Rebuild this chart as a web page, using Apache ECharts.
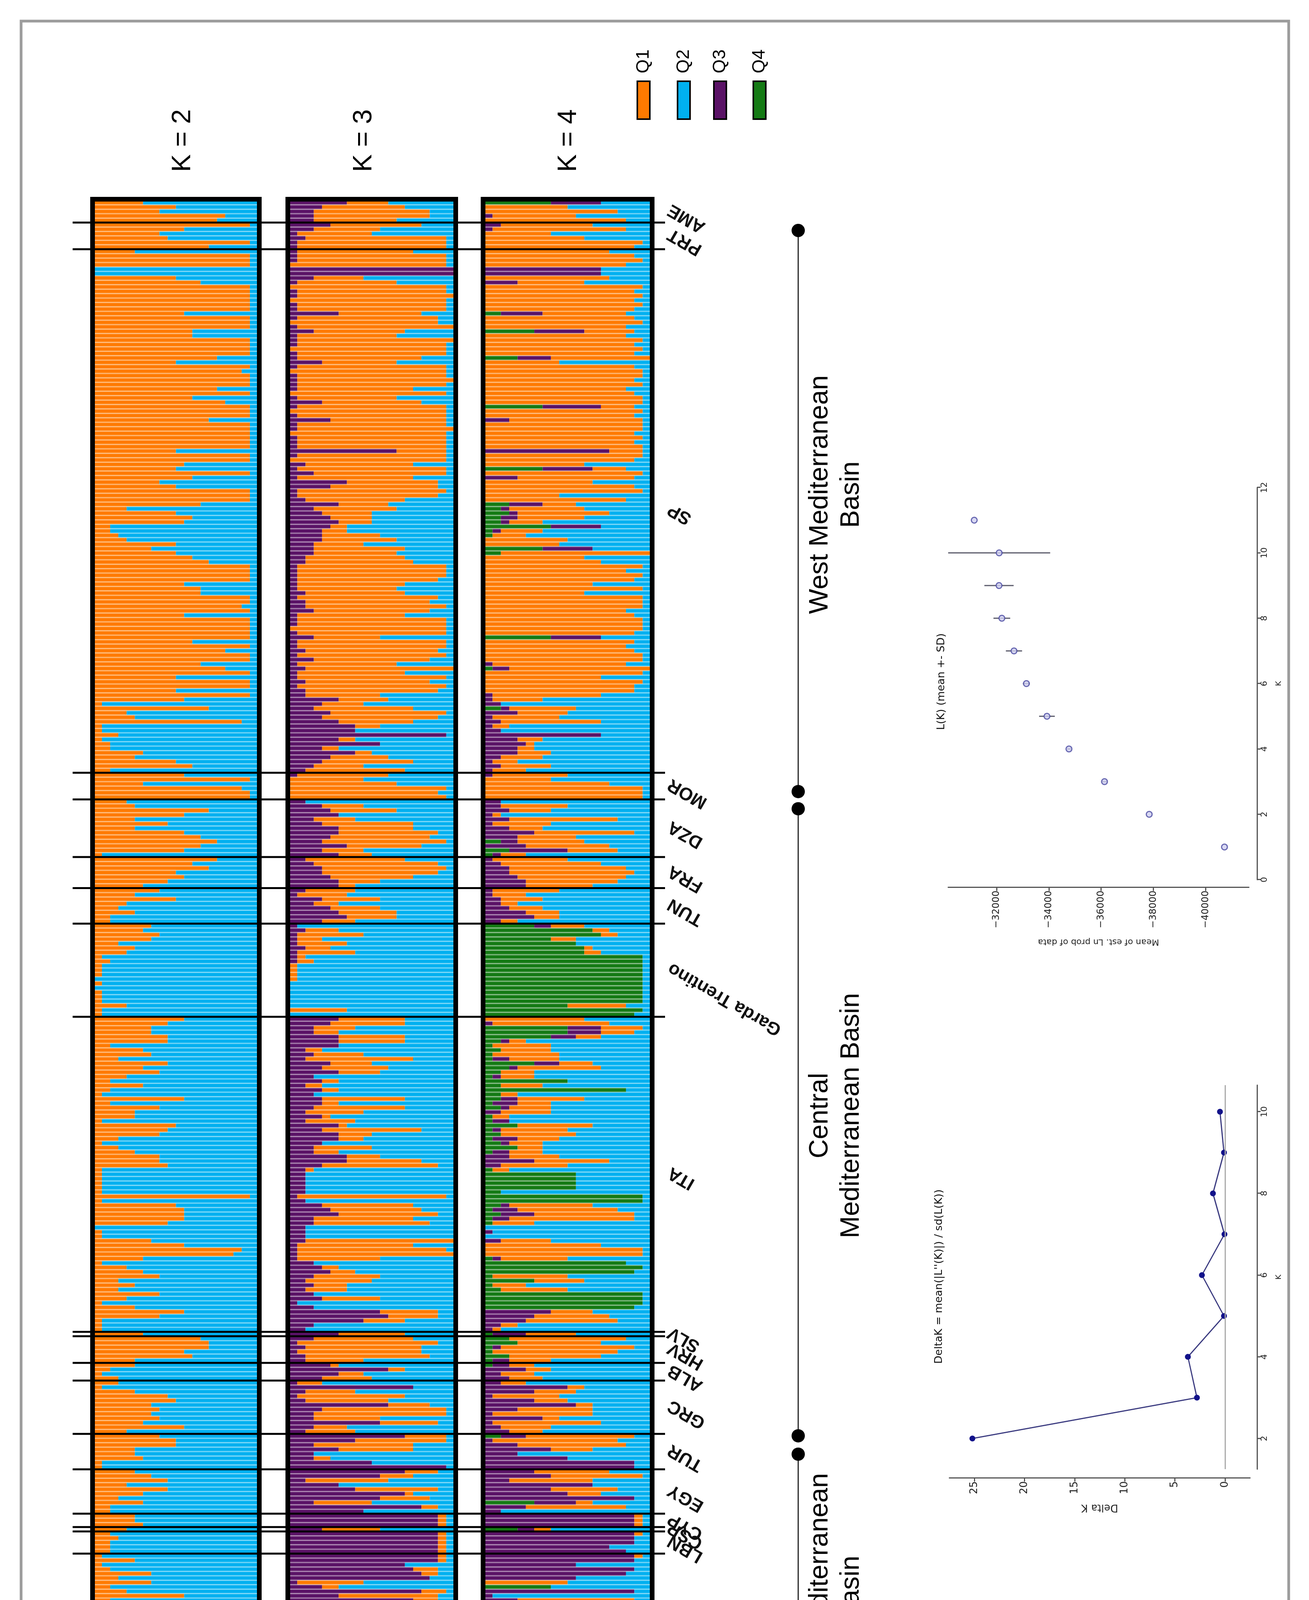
<!DOCTYPE html>
<html>
<head>
<meta charset="utf-8">
<script src="https://cdn.jsdelivr.net/npm/echarts@6/dist/echarts.min.js"></script>
<style>
html, body { margin: 0; padding: 0; background: #fff; }
#main { position: absolute; left: 0; top: 0; width: 3352px; height: 4719px; }
.rot { position: absolute; transform: rotate(-90deg); transform-origin: 50% 50%; }
#lk { left: 2180px; top: 1330px; width: 1260px; height: 960px; }
#dk { left: 2220px; top: 2810px; width: 1180px; height: 960px; }
</style>
</head>
<body>
<div id="main"></div>
<div id="lk" class="rot"></div>
<div id="dk" class="rot"></div>
<script>
// populations, top to bottom, and number of individuals in each
var popNames = ['AME', 'PRT', 'SP', 'MOR', 'DZA', 'FRA', 'TUN', 'Garda Trentino', 'ITA', 'SLV',
  'HRV', 'ALB', 'GRC', 'TUR', 'EGY', 'CYP', 'CSP', 'LBN', 'SYR', 'IRA'];
var popSizes = [5, 6, 118, 6, 13, 7, 8, 21, 71, 1, 6, 4, 12, 8, 10, 3, 1, 5, 38, 3];

// membership per individual, one char per individual, base 21 => twentieths (0..k = 0..20)
// K = 2 : Q1 share (Q2 is the rest)
var k2Q1 = ['6a8gf', 'jb89je',
  '5jjj00adjj' + 'jjjjbjjjcc' + 'jjjjfajijj' + 'jfjcgjjjej' + 'jjjjjajjba' + 'jc8ajjjd4a' +
  'cb2234a7ac' + 'ejjjjbddjj' + 'ijbjjjjjcj' + 'gjjdgjajja' + 'jb1e45i113' + '12265ac2',
  'bj6ijj', '45eb595bdfdb1', 'fceab96', '85a43522', '768735412111010111411',
  'b977992673' + '96842621b2' + '8551a98313' + '5889111111' + 'j1abbb9011' + '7bih614683' + '538415b8111',
  '6', 'deebc5', '5213', '3159a78786b4', '8aa55611', '5794963622', '556', '4', '23222',
  '151273724b' + '2042154276' + '7632123742' + '65343784', '321'];

// K = 3 : Q3 and Q1 shares (Q2 is the rest)
var k3Q3 = ['74333', '531211',
  '1110kk3101' + '1011610131' + '1101141011' + '1101410151' + '10111d1021' + '3175112634' +
  '5654443332' + '2111111212' + '2311101311' + '2131211212' + '264354688j' + '6b485432',
  '100000', '2456346654746', '2344566', '21435674', '121112111000000000000',
  '6533666232' + '5463424344' + '3242646643' + '3774222222' + '1245633222' + '2111134532' + '323413bc932',
  '6', '312122', '5c64', '1f212c433b32', 'e83633aj', 'eb268eb3g9', 'iii', '4', 'iiiii',
  'iiefgh14g6' + 'fihjihhjhi' + 'hgi49hhi48' + '4dfefhhe', 'iih'];
var k3Q1 = ['5aeea', 'b89hii',
  'eiij006cji' + 'jjiiahijbc' + 'jijif9ijij' + 'iejccijiei' + 'jjiii6ijdi' + 'gebdihc6a6' +
  '5423796bac' + 'diiihdcchf' + 'hediiji8ii' + 'giecidifig' + '965cee9300' + '20227b6c',
  'b9djij', '05805b9ccf954', 'cffea52', '66736764', '048363712111100000070',
  '895388026d' + '58502220a2' + 'b7161c4307' + '349e100000' + 'i0bbcce000' + 'ieija02388' + '45070076500',
  '8', 'cheff7', '1236', '306da5fg8746', '5bc90200', '44a0a16720', '111', '7', '11111',
  '110320823c' + '3131123031' + '2315623186' + '64343225', '000'];

// K = 4 : Q4, Q3 and Q1 shares (Q2 is the rest)
var k4Q4 = ['80000', '000000',
  '0000000000' + '0000200060' + '0000400000' + '0000070000' + '0000000007' + '0000000323' +
  '2281100720' + '0000000000' + '0000000800' + '0000100000' + '0002000000' + '00000000',
  '000000', '0000000002031', '0000000', '00000000', '6de8bccjjjjjjjjjjjaji',
  '00aa821211' + '6321a2h221' + '2011412124' + '10001bbbb2' + 'jj21211000' + '00001hji16' + '12jjji00000',
  '1', '341131', '1000', '000000000000', '20000000', '0000000600', '000', '4', '00000',
  '0000000800' + '0000000000' + '0006400072' + '70000000', '000'];
var k4Q3 = ['60010', '210000',
  '0000ee0400' + '0000500060' + '0000400000' + '0000070030' + '00000f0006' + '0400000411' +
  '2161000600' + '0000000000' + '0000000600' + '0001200000' + '112141212e' + '45442121',
  '100000', '2231313642571', '1233455', '11223562', '200000000000000000000',
  '0144310002' + '3101000023' + '1202010310' + '2362000000' + '0013420010' + '2000100000' + '00000086521',
  '4', '001002', '2523', '2a616b417123', '31484aii', '683d8ai552', 'iii', '2', 'iiifh',
  'iibihb00i1' + '4iiiiigiii' + 'hid28dii6e' + '6dhgggff', 'hgf'];
var k4Q1 = ['0agah', 'bg8cji',
  'fijh00f8ji' + 'jijiaijh6h' + 'jijic9ijji' + 'jhijj4jigj' + 'jijij4jic4' + 'jedij9h49b' +
  '84054a90ic' + 'ejhjidjcjj' + 'jhijjji0ih' + 'ijjghjejii' + 'd60868c200' + '31245364',
  '98fjjj', '0851d74c78a63', '9cefdb8', '84524432', '422301200000000000700',
  'ce54327686' + '4a44050284' + '5620989543' + '4698200000' + '00accf5000' + '6ejj800096' + '48000059b21',
  '6', 'eagfb5', '3344', '3258429c2d64', 'dfd50000', '9ba08402c0', '111', '2', '10000',
  '100000a000' + 'e000000000' + '1000000000' + '00112232', '000'];

// basins: label, first and last population index
var basins = [['West Mediterranean\nBasin', 0, 3], ['Central\nMediterranean Basin', 4, 12], ['East Mediterranean\nBasin', 13, 19]];

// L(K) and Delta K
var lkK = [1, 2, 3, 4, 5, 6, 7, 8, 9, 10, 11];
var lkMean = [-40717, -37838, -36128, -34769, -33928, -33141, -32667, -32202, -32094, -32100, -31147];
var lkSd = [0, 0, 90, 70, 300, 130, 310, 320, 560, 1950, 0];
var dkK = [2, 3, 4, 5, 6, 7, 8, 9, 10];
var dkVal = [25.2, 2.8, 3.7, 0.1, 2.3, 0.05, 1.2, 0.1, 0.5];

var colQ1 = '#ff7a00', colQ2 = '#00b0f0', colQ3 = '#5a1266', colQ4 = '#147a14';
var FONT = '"Liberation Sans", Arial, sans-serif';

function decode(arr, name) {
  var out = [];
  arr.forEach(function (s, i) {
    if (s.length !== popSizes[i]) throw new Error(name + ' ' + popNames[i] + ' has ' + s.length + ' not ' + popSizes[i]);
    for (var j = 0; j < s.length; j++) out.push(parseInt(s.charAt(j), 21) / 20);
  });
  return out;
}
function rest() {
  var parts = Array.prototype.slice.call(arguments);
  return parts[0].map(function (v, i) {
    var s = 0;
    parts.forEach(function (p) { s += p[i]; });
    return Math.max(0, +(1 - s).toFixed(3));
  });
}

var a2q1 = decode(k2Q1, 'k2Q1'), a2q2 = rest(a2q1);
var a3q3 = decode(k3Q3, 'k3Q3'), a3q1 = decode(k3Q1, 'k3Q1'), a3q2 = rest(a3q3, a3q1);
var a4q4 = decode(k4Q4, 'k4Q4'), a4q3 = decode(k4Q3, 'k4Q3'), a4q1 = decode(k4Q1, 'k4Q1'), a4q2 = rest(a4q4, a4q3, a4q1);
var N = a2q1.length;
var ids = [];
for (var i = 0; i < N; i++) ids.push('i' + i);

var panels = [{ left: 240, width: 421 }, { left: 740, width: 424 }, { left: 1240, width: 427 }];
var gTop = 513, gH = 3930;

function bar(name, data, color, idx, stack) {
  return {
    name: name, type: 'bar', stack: stack, xAxisIndex: idx, yAxisIndex: idx,
    data: data, barCategoryGap: '0%', silent: true,
    itemStyle: { color: color }
  };
}

var option = {
  animation: false,
  backgroundColor: '#fff',
  grid: panels.map(function (p) { return { left: p.left, width: p.width, top: gTop, height: gH }; }),
  xAxis: panels.map(function (p, k) { return { type: 'value', min: 0, max: 1, gridIndex: k, show: false }; }),
  yAxis: panels.map(function (p, k) { return { type: 'category', data: ids, inverse: true, gridIndex: k, show: false }; }),
  series: [
    bar('Q1', a2q1, colQ1, 0, 'k2'), bar('Q2', a2q2, colQ2, 0, 'k2'),
    bar('Q3', a3q3, colQ3, 1, 'k3'), bar('Q1', a3q1, colQ1, 1, 'k3'), bar('Q2', a3q2, colQ2, 1, 'k3'),
    bar('Q4', a4q4, colQ4, 2, 'k4'), bar('Q3', a4q3, colQ3, 2, 'k4'), bar('Q1', a4q1, colQ1, 2, 'k4'), bar('Q2', a4q2, colQ2, 2, 'k4')
  ]
};

var chart = echarts.init(document.getElementById('main'));
chart.setOption(option);

// pixel positions of individuals through the category axis
function yPix(i) { return chart.convertToPixel({ yAxisIndex: 0 }, i); }
var band = yPix(1) - yPix(0);
function edge(i) { return i >= N ? yPix(N - 1) + band / 2 : yPix(i) - band / 2; }
var starts = [], acc = 0;
popSizes.forEach(function (s) { starts.push(acc); acc += s; });

var els = [];
els.push({ type: 'rect', z: 100, shape: { x: 54, y: 54, width: 3246, height: 4602 }, style: { fill: 'none', stroke: '#9c9c9c', lineWidth: 7 } });

// pale separators between individuals, then panel frames
panels.forEach(function (p) {
  for (var r = 1; r < N; r++) {
    var ys = edge(r);
    els.push({ type: 'line', z: 99, silent: true, shape: { x1: p.left, y1: ys, x2: p.left + p.width, y2: ys },
      style: { stroke: 'rgba(255,255,255,0.42)', lineWidth: 3.5 } });
  }
  els.push({ type: 'rect', z: 100, shape: { x: p.left - 3, y: edge(0) - 3, width: p.width + 6, height: edge(N) - edge(0) + 6 },
    style: { fill: 'none', stroke: '#000', lineWidth: 12 } });
});

// population boundaries and labels
for (var p = 0; p < popNames.length; p++) {
  var y0 = edge(starts[p]), y1 = edge(starts[p] + popSizes[p]);
  if (p > 0) {
    els.push({ type: 'line', z: 101, shape: { x1: 186, y1: y0, x2: 1703, y2: y0 }, style: { stroke: '#000', lineWidth: 5 } });
  }
  els.push({ type: 'text', z: 101, x: 1714, y: (y0 + y1) / 2 - 8, rotation: Math.PI * 150 / 180,
    style: { text: popNames[p], fill: '#111', fontSize: 46, fontWeight: 'bold', fontFamily: FONT, align: 'right', verticalAlign: 'middle' } });
}

// K labels
[['K = 2', 468], ['K = 3', 932], ['K = 4', 1456]].forEach(function (t) {
  els.push({ type: 'text', z: 101, x: t[1], y: 360, rotation: Math.PI / 2,
    style: { text: t[0], fill: '#000', fontSize: 68, fontFamily: FONT, align: 'center', verticalAlign: 'middle' } });
});

// legend
[['Q1', colQ1, 1648], ['Q2', colQ2, 1751], ['Q3', colQ3, 1844], ['Q4', colQ4, 1945]].forEach(function (l) {
  els.push({ type: 'rect', z: 101, shape: { x: l[2] - 16, y: 208, width: 32, height: 97 }, style: { fill: l[1], stroke: '#000', lineWidth: 4 } });
  els.push({ type: 'text', z: 101, x: l[2], y: 157, rotation: Math.PI / 2,
    style: { text: l[0], fill: '#000', fontSize: 46, fontFamily: FONT, align: 'center', verticalAlign: 'middle' } });
});

// basins
var bOff = [[77, -20, -42], [24, 5, -17], [52, 2, -16]];
basins.forEach(function (b, k) {
  var top = edge(starts[b[1]]) + bOff[k][0];
  var bot = edge(starts[b[2]] + popSizes[b[2]]) + bOff[k][1];
  els.push({ type: 'line', z: 101, shape: { x1: 2044, y1: top, x2: 2044, y2: bot }, style: { stroke: '#222', lineWidth: 3 } });
  els.push({ type: 'circle', z: 102, shape: { cx: 2044, cy: top, r: 17 }, style: { fill: '#000' } });
  els.push({ type: 'circle', z: 102, shape: { cx: 2044, cy: bot, r: 17 }, style: { fill: '#000' } });
  els.push({ type: 'text', z: 101, x: 2140, y: (top + bot) / 2 + bOff[k][2], rotation: Math.PI / 2,
    style: { text: b[0], fill: '#000', fontSize: 68, lineHeight: 80, fontFamily: FONT, align: 'center', verticalAlign: 'middle' } });
});

chart.setOption({ graphic: { elements: els } });

// small plots, drawn upright and turned with the page
var SF = 'DejaVu Sans';
var axisLine = { show: true, onZero: false, lineStyle: { color: '#555', width: 3 } };

var lk = echarts.init(document.getElementById('lk'));
lk.setOption({
  animation: false,
  title: { text: 'L(K) (mean +- SD)', left: 690, textAlign: 'center', top: 62,
    textStyle: { fontSize: 27, fontWeight: 'normal', color: '#111', fontFamily: SF } },
  grid: { left: 188, right: 68, top: 98, bottom: 83 },
  xAxis: { type: 'value', min: 0, max: 12, interval: 2, offset: 21, axisLine: axisLine,
    axisTick: { show: true, length: 9, lineStyle: { color: '#555', width: 3 } },
    axisLabel: { fontSize: 22, color: '#222', fontFamily: SF, margin: 8 }, splitLine: { show: false },
    name: 'K', nameLocation: 'middle', nameGap: 46, nameTextStyle: { fontSize: 20, color: '#222', fontFamily: SF } },
  yAxis: { type: 'value', min: -41650, max: -30150, offset: 20, axisLine: axisLine,
    axisTick: { show: true, length: 9, customValues: [-40000, -38000, -36000, -34000, -32000], lineStyle: { color: '#555', width: 3 } },
    axisLabel: { customValues: [-40000, -38000, -36000, -34000, -32000], fontSize: 24, color: '#222', fontFamily: SF, margin: 8,
      formatter: function (v) { return String(v).replace('-', '\u2212'); } },
    splitLine: { show: false },
    name: 'Mean of est. Ln prob of data', nameLocation: 'middle', nameGap: 128, nameRotate: 90,
    nameTextStyle: { fontSize: 22, color: '#222', fontFamily: SF } },
  series: [
    { type: 'custom', z: 1, silent: true,
      data: lkK.map(function (k, i) { return [k, lkMean[i], lkSd[i]]; }),
      encode: { x: 0, y: 1 },
      renderItem: function (params, api) {
        var s = api.value(2);
        if (!s) return null;
        var a = api.coord([api.value(0), api.value(1) - s]);
        var b = api.coord([api.value(0), api.value(1) + s]);
        return { type: 'line', shape: { x1: a[0], y1: a[1], x2: b[0], y2: b[1] }, style: { stroke: '#5a5a6a', lineWidth: 3 } };
      } },
    { type: 'scatter', z: 2, silent: true, symbol: 'circle', symbolSize: 15,
      data: lkK.map(function (k, i) { return [k, lkMean[i]]; }),
      itemStyle: { color: '#cfcff0', borderColor: '#4848a0', borderWidth: 3 } }
  ]
});

var dk = echarts.init(document.getElementById('dk'));
dk.setOption({
  animation: false,
  title: { text: "DeltaK = mean(|L''(K)|) / sd(L(K))", left: 607, textAlign: 'center', top: 56,
    textStyle: { fontSize: 27, fontWeight: 'normal', color: '#111', fontFamily: SF } },
  grid: { left: 113, right: 78, top: 101, bottom: 83 },
  xAxis: { type: 'value', min: 1.25, max: 10.65, offset: 18, axisLine: axisLine,
    axisTick: { show: true, length: 9, customValues: [2, 4, 6, 8, 10], lineStyle: { color: '#555', width: 3 } },
    axisLabel: { customValues: [2, 4, 6, 8, 10], fontSize: 22, color: '#222', fontFamily: SF, margin: 8 },
    splitLine: { show: false },
    name: 'K', nameLocation: 'middle', nameGap: 46, nameTextStyle: { fontSize: 20, color: '#222', fontFamily: SF } },
  yAxis: { type: 'value', min: -2.5, max: 27.5, offset: 23, axisLine: axisLine,
    axisTick: { show: true, length: 9, customValues: [0, 5, 10, 15, 20, 25], lineStyle: { color: '#555', width: 3 } },
    axisLabel: { customValues: [0, 5, 10, 15, 20, 25], fontSize: 26, color: '#222', fontFamily: SF, margin: 8 },
    splitLine: { show: false },
    name: 'Delta K', nameLocation: 'middle', nameGap: 62, nameRotate: 90,
    nameTextStyle: { fontSize: 26, color: '#222', fontFamily: SF } },
  series: [{
    type: 'line', silent: true, symbol: 'circle', symbolSize: 15,
    data: dkK.map(function (k, i) { return [k, dkVal[i]]; }),
    itemStyle: { color: '#12128a' }, lineStyle: { color: '#3b3b80', width: 3 },
    markLine: { silent: true, symbol: ['none', 'none'], label: { show: false },
      lineStyle: { color: '#aaaaaa', width: 3, type: 'solid' }, data: [{ yAxis: 0 }] }
  }]
});
</script>
</body>
</html>
